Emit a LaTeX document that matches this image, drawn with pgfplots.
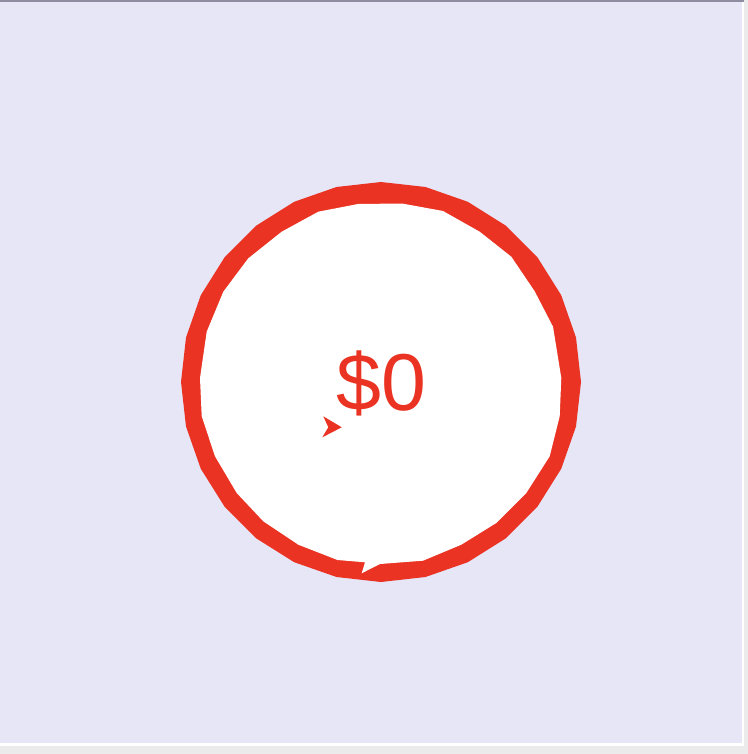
\documentclass[border=0pt]{standalone}
\usepackage{pgfplots}
\pgfplotsset{compat=1.18}
\usepackage{fontspec}
\setmainfont{Liberation Sans}
\definecolor{bgout}{HTML}{EBEBEB}
\definecolor{lav}{HTML}{E6E6F7}
\definecolor{topbar}{HTML}{8E8C9E}
\definecolor{ringred}{HTML}{EA3323}
\begin{document}
\begin{tikzpicture}
\begin{axis}[
  width=748bp, height=754bp, scale only axis,
  xmin=0, xmax=748, ymin=0, ymax=754, y dir=reverse,
  hide axis, clip=false,
]
% page and panel
\addplot[draw=none, fill=bgout] coordinates {(0,0) (748,0) (748,754) (0,754)} -- cycle;
\addplot[draw=none, fill=white] coordinates {(0,0) (744,0) (744,746) (0,746)} -- cycle;
\addplot[draw=none, fill=lav] coordinates {(0,0) (742,0) (742,743) (0,743)} -- cycle;
\addplot[draw=none, fill=topbar] coordinates {(0,0) (744,0) (744,2) (0,2)} -- cycle;
% outer ring (28-gon)
\addplot[draw=none, fill=ringred] coordinates {
(381,182) (425.5,187.0) (467.8,201.8) (505.7,225.6) (537.4,257.3) (561.2,295.2) (576.0,337.5)
(581,382) (576.0,426.5) (561.2,468.8) (537.4,506.7) (505.7,538.4) (467.8,562.2) (425.5,577.0)
(381,582) (336.5,577.0) (294.2,562.2) (256.3,538.4) (224.6,506.7) (200.8,468.8) (186.0,426.5)
(181,382) (186.0,337.5) (200.8,295.2) (224.6,257.3) (256.3,225.6) (294.2,201.8) (336.5,187.0)} -- cycle;
% inner white face
\addplot[draw=none, fill=white] coordinates {
(358,204) (402,203.5) (443,211) (479.7,231.7) (511.3,256.7) (534.7,291.3) (553,326.7)
(561.3,378) (559.7,416.3) (549.7,456.3) (526.3,493) (496.3,523) (461.3,544.7) (423,560.7)
(380,564) (361.7,573.3) (365,562.3) (337.5,560) (298.3,544.7) (263.3,521.3) (236.7,493)
(215,456.3) (201.7,416.3) (200,378) (206.7,331.7) (223.3,291.7) (248.3,258.3) (281.7,231.7)
(318.3,211.7)} -- cycle;
% pointer arrowhead
\addplot[draw=none, fill=ringred] coordinates {(323.3,416.3) (341.7,427.3) (322.3,437.3) (328.3,427.3)} -- cycle;
% value label
\node[anchor=base, text=ringred, inner sep=0pt, font=\fontsize{81}{81}\selectfont] at (axis cs:381.5,410) {\$0};
\end{axis}
\end{tikzpicture}
\end{document}
